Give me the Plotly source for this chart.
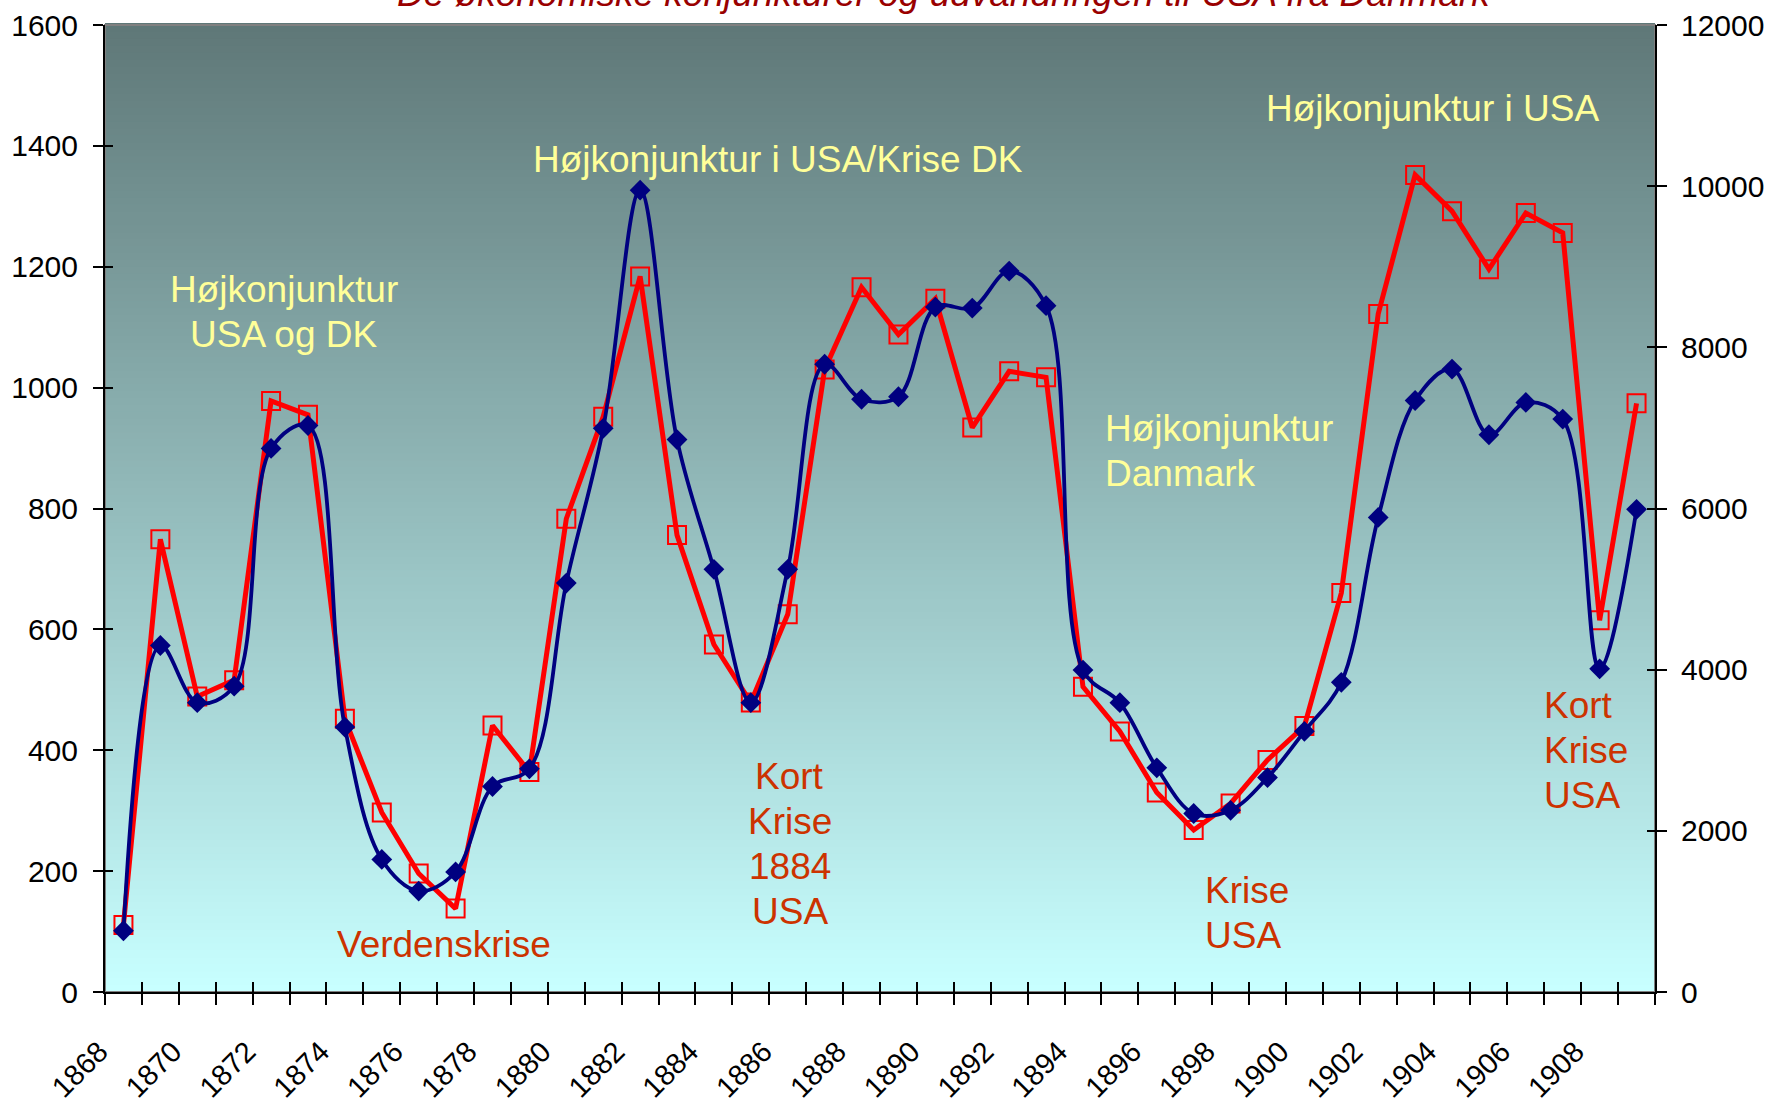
import plotly.graph_objects as go

# ---------------- data ----------------
years = list(range(1868, 1910))
# red series (left axis, 0-1600)
red_vals = [111, 749, 489, 516, 978, 955, 452, 297, 196, 138,
            441, 364, 783, 952, 1184, 756, 575, 479, 625, 1030,
            1166, 1088, 1147, 934, 1027, 1017, 505, 431, 330, 268,
            312, 384, 440, 660, 1122, 1352, 1292, 1196, 1289, 1256,
            615, 974]
# blue series (right axis, 0-12000)
blue_vals = [760, 4300, 3590, 3795, 6745, 7030, 3287, 1645, 1252, 1490,
             2550, 2770, 5075, 6995, 9950, 6855, 5245, 3590, 5245, 7790,
             7356, 7387, 8500, 8487, 8946, 8517, 3995, 3590, 2782, 2215,
             2255, 2661, 3235, 3843, 5889, 7340, 7730, 6915, 7316, 7110,
             4010, 5990]
label_years = list(range(1868, 1909, 2))
left_ticks = list(range(0, 1601, 200))
right_ticks = list(range(0, 12001, 2000))

title_text = "De økonomiske konjunkturer og udvandringen til USA fra Danmark"

FONT = "Liberation Sans, Arial, sans-serif"
YELLOW = "#FFFF99"
ORANGE = "#CC3300"

boundaries = [years[0] - 0.5 + i for i in range(len(years) + 1)]
x_range = [boundaries[0], boundaries[-1]]

fig = go.Figure()

fig.add_trace(go.Scatter(
    x=years, y=red_vals, mode="lines+markers", yaxis="y", xaxis="x",
    line=dict(color="#FF0000", width=5),
    marker=dict(symbol="square-open", size=18, color="#FF0000",
                line=dict(width=2, color="#FF0000")),
    showlegend=False, hoverinfo="x+y"))

fig.add_trace(go.Scatter(
    x=years, y=blue_vals, mode="lines+markers", yaxis="y2", xaxis="x",
    line=dict(color="#000080", width=3.8, shape="spline", smoothing=1),
    marker=dict(symbol="diamond", size=16, color="#000080"),
    showlegend=False, hoverinfo="x+y"))

# invisible helper traces so the overlay tick axes get drawn
fig.add_trace(go.Scatter(x=years, y=red_vals, xaxis="x2", yaxis="y3",
                         mode="lines", line=dict(width=0), opacity=0,
                         hoverinfo="skip", showlegend=False))
fig.add_trace(go.Scatter(x=years, y=blue_vals, xaxis="x", yaxis="y4",
                         mode="lines", line=dict(width=0), opacity=0,
                         hoverinfo="skip", showlegend=False))

# ---------------- gradient background ----------------
top_c = (95, 120, 120)
bot_c = (200, 255, 255)
N = 140
shapes = []
for i in range(N):
    t = (i + 0.5) / N
    c = tuple(round(bot_c[k] + (top_c[k] - bot_c[k]) * t) for k in range(3))
    shapes.append(dict(type="rect", xref="paper", yref="paper",
                       x0=0, x1=1, y0=i / N, y1=(i + 1) / N + 0.002,
                       fillcolor="rgb(%d,%d,%d)" % c, line=dict(width=0),
                       layer="below"))
shapes.append(dict(type="rect", xref="paper", yref="paper", x0=0, x1=1,
                   y0=0, y1=1, line=dict(color="#808080", width=2),
                   fillcolor="rgba(0,0,0,0)", layer="below"))

# ---------------- annotations ----------------
LINE_STEP = 45  # px between text lines


def ann_block(lines, x, y, color, xanchor="center"):
    out = []
    n = len(lines)
    for i, line in enumerate(lines):
        out.append(dict(text=line, x=x, y=y, xref="x", yref="y",
                        showarrow=False, xanchor=xanchor, yanchor="middle",
                        yshift=((n - 1) / 2 - i) * LINE_STEP,
                        font=dict(family=FONT, size=37, color=color)))
    return out


annotations = []
annotations += ann_block(["Højkonjunktur", "USA og DK"], 1872.35, 1125, YELLOW)
annotations += ann_block(["Højkonjunktur i USA/Krise DK"], 1885.74, 1377, YELLOW)
annotations += ann_block(["Højkonjunktur i USA"], 1903.46, 1462, YELLOW)
annotations += ann_block(["Højkonjunktur", "Danmark"], 1894.55, 895, YELLOW, "left")
annotations += ann_block(["Verdenskrise"], 1876.69, 78, ORANGE)
annotations += ann_block(["Kort", "Krise", "1884", "USA"], 1886.06, 245, ORANGE)
annotations += ann_block(["Krise", "USA"], 1897.25, 131, ORANGE, "left")
annotations += ann_block(["Kort", "Krise", "USA"], 1906.45, 400, ORANGE, "left")
annotations.append(dict(text="<i>" + title_text + "</i>", x=0.5413, y=1,
                        xref="paper", yref="paper", yanchor="bottom",
                        xanchor="center", yshift=9, showarrow=False,
                        font=dict(family=FONT, size=37, color="#990000")))

axis_common = dict(showgrid=False, zeroline=False, automargin=False)

fig.update_layout(
    width=1768, height=1103,
    margin=dict(l=105, r=113, t=25, b=111, pad=0, autoexpand=False),
    paper_bgcolor="white", plot_bgcolor="rgb(200,255,255)",
    font=dict(family=FONT, color="black"),
    shapes=shapes, annotations=annotations,
    xaxis=dict(range=x_range, tickmode="array", tickvals=label_years,
               ticktext=[str(y) for y in label_years], ticks="", ticklen=0,
               tickangle=-45, tickfont=dict(size=29, family=FONT),
               ticklabelstandoff=29, ticklabelshift=-24,
               showline=True, linecolor="black", linewidth=2,
               minor=dict(tickmode="array", tickvals=boundaries,
                          ticks="outside", ticklen=11, tickwidth=1.5,
                          tickcolor="black", showgrid=False),
               anchor="y", **axis_common),
    xaxis2=dict(range=x_range, overlaying="x", anchor="y", side="bottom",
                tickmode="array", tickvals=boundaries, ticks="inside",
                ticklen=10, tickwidth=1.5, tickcolor="black",
                showticklabels=False, showline=False, **axis_common),
    yaxis=dict(range=[0, 1600], tickmode="array", tickvals=left_ticks,
               ticktext=[str(v) for v in left_ticks],
               ticks="outside", ticklen=10, tickwidth=1.5, tickcolor="black",
               tickfont=dict(size=30, family=FONT), ticklabelstandoff=9,
               showline=True, linecolor="black", linewidth=2, anchor="x",
               **axis_common),
    yaxis2=dict(range=[0, 12000], overlaying="y", side="right", anchor="x",
                tickmode="array", tickvals=right_ticks,
                ticktext=[str(v) for v in right_ticks], ticks="outside",
                ticklen=10, tickwidth=1.5, tickcolor="black",
                tickfont=dict(size=30, family=FONT), ticklabelstandoff=8,
                showline=True, linecolor="black", linewidth=2,
                **axis_common),
    yaxis3=dict(range=[0, 1600], overlaying="y", side="left", anchor="x",
                tickmode="array", tickvals=left_ticks, ticks="inside",
                ticklen=8, tickwidth=1.5, tickcolor="black",
                showticklabels=False, showline=False, **axis_common),
    yaxis4=dict(range=[0, 12000], overlaying="y", side="right", anchor="x",
                tickmode="array", tickvals=right_ticks, ticks="inside",
                ticklen=8, tickwidth=1.5, tickcolor="black",
                showticklabels=False, showline=False, **axis_common),
)

fig.write_html("out.html", config={"displayModeBar": False},
               post_script="document.body.style.margin='0';document.body.style.overflow='hidden';")
